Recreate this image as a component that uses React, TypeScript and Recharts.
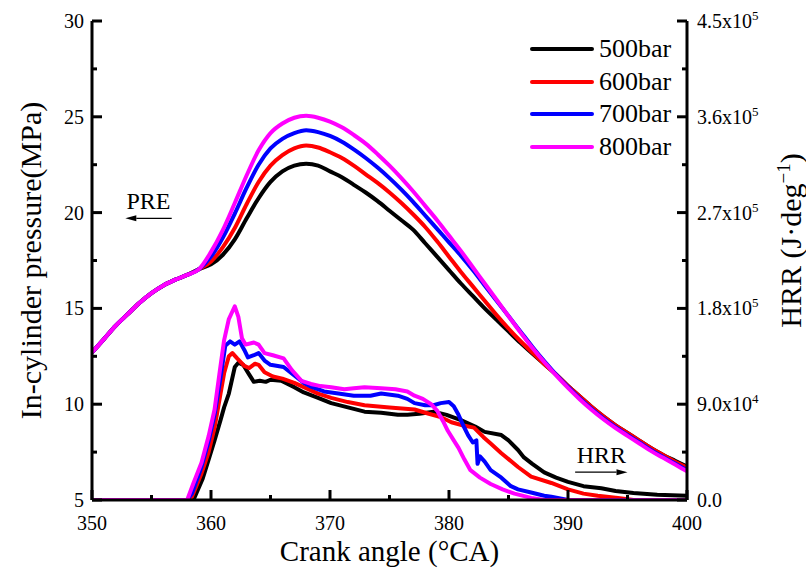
import React from 'react';
import { ComposedChart, Line, XAxis, YAxis, ReferenceLine, Legend, Label } from 'recharts';

const FONT = '"Liberation Serif", "Times New Roman", Times, serif';

// ---------- ticks ----------
const crankTicks = [350, 355, 360, 365, 370, 375, 380, 385, 390, 395, 400];
const pressureTicks = [5, 7.5, 10, 12.5, 15, 17.5, 20, 22.5, 25, 27.5, 30];
const hrrTicks = [0, 45000, 90000, 135000, 180000, 225000, 270000, 315000, 360000, 405000, 450000];

// ---------- series names / colours ----------
const seriesNames = ['500bar', '600bar', '700bar', '800bar'];
const seriesColors = ['#000000', '#ff0000', '#0000ff', '#ff00ff'];

// ---------- in-cylinder pressure (MPa) ----------
const preAngle = [
  350, 351, 352, 353, 354, 355, 356, 357, 358, 359,
  360, 361, 362, 363, 364, 365, 366, 367, 368, 369,
  370, 371, 372, 373, 374, 375, 376, 377, 378, 379,
  380, 381, 382, 383, 384, 385, 386, 387, 388, 389,
  390, 391, 392, 393, 394, 395, 396, 397, 398, 399, 400,
];
const pre500 = [
  12.7, 13.4, 14.1, 14.7, 15.3, 15.8, 16.2, 16.5, 16.75, 17.05,
  17.3, 17.8, 18.6, 19.7, 20.75, 21.6, 22.15, 22.45, 22.55, 22.45,
  22.15, 21.85, 21.45, 21.05, 20.6, 20.1, 19.6, 19.1, 18.4, 17.7,
  17.0, 16.3, 15.65, 15.0, 14.4, 13.8, 13.2, 12.65, 12.1, 11.55,
  10.95, 10.4, 9.85, 9.35, 8.9, 8.5, 8.1, 7.7, 7.35, 7.05, 6.75,
];
const pre600 = [
  12.7, 13.4, 14.1, 14.7, 15.3, 15.8, 16.2, 16.5, 16.75, 17.05,
  17.45, 18.2, 19.2, 20.45, 21.6, 22.45, 23.0, 23.35, 23.5, 23.4,
  23.15, 22.85, 22.45, 22.0, 21.55, 21.05, 20.5, 19.9, 19.25, 18.5,
  17.7, 16.9, 16.15, 15.4, 14.65, 13.95, 13.3, 12.7, 12.1, 11.55,
  10.95, 10.4, 9.85, 9.35, 8.9, 8.5, 8.1, 7.7, 7.35, 7.0, 6.7,
];
const pre700 = [
  12.7, 13.4, 14.1, 14.7, 15.3, 15.8, 16.2, 16.5, 16.75, 17.05,
  17.7, 18.7, 19.95, 21.3, 22.5, 23.35, 23.85, 24.15, 24.3, 24.2,
  24.0, 23.7, 23.3, 22.85, 22.35, 21.8, 21.2, 20.55, 19.85, 19.15,
  18.45, 17.75, 17.0, 16.2, 15.4, 14.6, 13.8, 13.0, 12.25, 11.55,
  10.9, 10.3, 9.75, 9.25, 8.8, 8.4, 8.0, 7.6, 7.25, 6.9, 6.55,
];
const pre800 = [
  12.7, 13.4, 14.1, 14.7, 15.3, 15.8, 16.2, 16.5, 16.75, 17.05,
  17.95, 19.1, 20.5, 21.95, 23.25, 24.15, 24.65, 24.95, 25.05, 24.95,
  24.75, 24.45, 24.05, 23.6, 23.05, 22.45, 21.8, 21.1, 20.35, 19.6,
  18.8, 18.0, 17.15, 16.3, 15.45, 14.6, 13.75, 12.95, 12.2, 11.5,
  10.85, 10.25, 9.7, 9.2, 8.75, 8.35, 7.95, 7.55, 7.2, 6.85, 6.5,
];

// ---------- heat release rate (J/deg) ----------
const hrrAngle500 = [
  350, 358.2, 358.6, 359.3, 359.8, 360.3, 360.8, 361.1, 361.5, 362.0,
  362.3, 362.7, 363.2, 363.6, 364.1, 364.6, 365.0, 365.9, 367.0, 367.8,
  369.0, 370.1, 371.5, 372.9, 374.3, 375.7, 376.5, 377.5, 378.7, 379.8,
  381.0, 382.2, 383.0, 384.4, 385.0, 385.8, 386.3, 387.0, 388.0, 389.0,
  390.0, 391.3, 392.8, 394.0, 395.5, 397.5, 400,
];
const hrr500 = [
  0, 0, 2000, 20000, 38000, 56000, 75000, 87000, 100000, 125000,
  129000, 127000, 118000, 111000, 112000, 111000, 113000, 112000, 106000, 101000,
  96000, 91000, 87000, 83000, 82000, 80000, 80000, 81000, 83000, 80000,
  75000, 69000, 64000, 61000, 56000, 47000, 40000, 34000, 26000, 21000,
  17000, 13000, 11000, 8500, 6600, 5000, 4000,
];
const hrrAngle600 = [
  350, 358, 358.4, 359.2, 359.8, 360.3, 360.8, 361.1, 361.5, 361.8,
  362.2, 362.8, 363.2, 363.7, 364.0, 364.5, 365.2, 366.0, 367.0, 367.8,
  369.0, 370.1, 371.5, 372.9, 375.0, 377.1, 378.3, 379.3, 380.2, 381.2,
  382.1, 382.9, 383.5, 384.4, 385.8, 386.9, 388.6, 390.0, 391.3, 392.5,
  394.2, 395.5, 400,
];
const hrr600 = [
  0, 0, 3000, 25000, 45000, 68000, 100000, 119000, 135000, 138000,
  133000, 126000, 124000, 128000, 127000, 120000, 116000, 114000, 110000, 106000,
  100000, 96000, 92000, 89000, 87000, 85000, 81000, 78000, 73000, 70000,
  68000, 59000, 53000, 44000, 31000, 22000, 16000, 10000, 6000, 4000,
  2000, 0, 0,
];
const hrrAngle700 = [
  350, 358, 358.4, 359.2, 359.8, 360.3, 360.8, 361.2, 361.6, 362.0,
  362.4, 362.8, 363.1, 363.6, 364.0, 364.5, 365.0, 366.1, 367.0, 367.8,
  368.5, 369.5, 370.7, 372.0, 373.4, 374.3, 375.7, 376.5, 377.1, 378.0,
  378.7, 379.3, 380.0, 380.4, 380.8, 381.2, 381.6, 382.0, 382.3, 382.4,
  382.6, 383.0, 383.5, 384.4, 385.2, 385.8, 386.9, 388.0, 388.6, 390.0, 400,
];
const hrr700 = [
  0, 0, 6000, 31000, 55000, 80000, 115000, 145000, 149000, 146000,
  149000, 141000, 134000, 136000, 138000, 131000, 127000, 125000, 117000, 110000,
  106000, 102000, 100000, 98000, 98000, 100000, 98000, 95000, 91000, 89000,
  89000, 91000, 92000, 88000, 80000, 70000, 61000, 54000, 56000, 34000,
  41000, 36000, 28000, 21000, 13000, 10000, 7000, 4000, 3000, 0, 0,
];
const hrrAngle800 = [
  350, 358, 358.5, 359.2, 359.8, 360.3, 360.7, 361.1, 361.5, 362.0,
  362.3, 362.6, 362.9, 363.6, 364.0, 364.5, 365.2, 366.1, 366.8, 367.6,
  368.4, 369.2, 370.1, 371.2, 372.0, 372.9, 374.3, 375.5, 376.5, 377.1,
  377.8, 378.5, 379.0, 379.5, 379.9, 380.4, 380.8, 381.3, 381.8, 382.6,
  383.5, 384.5, 385.5, 386.9, 388, 400,
];
const hrr800 = [
  0, 0, 15000, 35000, 60000, 85000, 118000, 150000, 170000, 182000,
  172000, 152000, 146000, 148000, 146000, 138000, 136000, 133000, 122000, 112000,
  109000, 107000, 106000, 104000, 105000, 106000, 105000, 104000, 102000, 98000,
  95000, 90000, 84000, 74000, 65000, 56000, 49000, 38000, 28000, 21000,
  15000, 10000, 6000, 2000, 0, 0,
];

// ---------- annotations ----------
const preArrow = { text: 'PRE', from: { x: 356.7, y: 19.7 }, to: { x: 352.8, y: 19.7 } };
const hrrArrow = { text: 'HRR', from: { x: 390.6, y: 6.45 }, to: { x: 395.0, y: 6.45 } };

const zip = (xs: number[], ys: number[]) => xs.map((x, i) => ({ x, y: ys[i] }));

const preSeries = [pre500, pre600, pre700, pre800].map((ys) => zip(preAngle, ys));
const hrrSeries = [
  zip(hrrAngle500, hrr500),
  zip(hrrAngle600, hrr600),
  zip(hrrAngle700, hrr700),
  zip(hrrAngle800, hrr800),
];

const TICK_FS = 20;

const BottomTick = (props: any) => {
  const { x, y, payload } = props;
  const v = payload.value;
  const major = v % 10 === 0;
  return (
    <g>
      <line x1={x} x2={x} y1={y} y2={y - (major ? 10 : 5)} stroke="#000" strokeWidth={3} />
      {major && (
        <text x={x} y={y + 30} textAnchor="middle" fontFamily={FONT} fontSize={TICK_FS} fill="#000">
          {v}
        </text>
      )}
    </g>
  );
};

const LeftTick = (props: any) => {
  const { x, y, payload } = props;
  const v = payload.value;
  const major = v % 5 === 0;
  return (
    <g>
      <line x1={x} x2={x + (major ? 10 : 5)} y1={y} y2={y} stroke="#000" strokeWidth={3} />
      {major && (
        <text x={x - 8} y={y} dy="0.35em" textAnchor="end" fontFamily={FONT} fontSize={TICK_FS} fill="#000">
          {v}
        </text>
      )}
    </g>
  );
};

const RightTick = (props: any) => {
  const { x, y, payload } = props;
  const v = payload.value as number;
  const major = v % 90000 === 0;
  let content: React.ReactNode = null;
  if (major) {
    if (v === 0) {
      content = '0.0';
    } else {
      const exp = Math.floor(Math.log10(v));
      const mant = (v / Math.pow(10, exp)).toFixed(1);
      content = (
        <>
          <tspan>{mant + 'x10'}</tspan>
          <tspan dy={-8} fontSize={13}>{exp}</tspan>
        </>
      );
    }
  }
  return (
    <g>
      <line x1={x} x2={x - (major ? 10 : 5)} y1={y} y2={y} stroke="#000" strokeWidth={3} />
      {major && (
        <text x={x + 10} y={y} dy="0.35em" textAnchor="start" fontFamily={FONT} fontSize={TICK_FS} fill="#000">
          {content}
        </text>
      )}
    </g>
  );
};

const Arrow = (text: string) => (p: any) => {
  const { x1, y1, x2, y2 } = p;
  const dir = x2 > x1 ? 1 : -1;
  const head = 11;
  return (
    <g>
      <line x1={x1} y1={y1} x2={x2 - dir * head} y2={y2} stroke="#000" strokeWidth={1.3} />
      <polygon
        points={`${x2},${y2} ${x2 - dir * head},${y2 - 3} ${x2 - dir * head},${y2 + 3}`}
        fill="#000"
      />
      <text x={(x1 + x2) / 2} y={y1 - 9} textAnchor="middle" fontFamily={FONT} fontSize={24} fill="#000">
        {text}
      </text>
    </g>
  );
};

const LegendContent = () => (
  <div style={{ fontFamily: FONT }}>
    {seriesNames.map((n, i) => (
      <div key={n} style={{ display: 'flex', alignItems: 'center', height: 32.5 }}>
        <svg width={64} height={8} style={{ display: 'block' }}>
          <line x1={2} x2={62} y1={4} y2={4} stroke={seriesColors[i]} strokeWidth={4} strokeLinecap="round" />
        </svg>
        <span style={{ fontSize: 26, lineHeight: 1, marginLeft: 5, color: '#000' }}>{n}</span>
      </div>
    ))}
  </div>
);

export default function App() {
  return (
    <div style={{ position: 'absolute', left: 0, top: 0, background: '#fff' }}>
      <ComposedChart width={806} height={569} margin={{ top: 21, right: 0, bottom: 0, left: 0 }}>
        <XAxis
          xAxisId="b"
          dataKey="x"
          type="number"
          domain={[350, 400]}
          allowDataOverflow
          ticks={crankTicks}
          interval={0}
          height={69}
          tickSize={0}
          tickMargin={0}
          tickLine={false}
          axisLine={{ stroke: '#000', strokeWidth: 3 }}
          tick={<BottomTick />}
        >
          <Label
            content={(p: any) => {
              const vb = p.viewBox || { x: 92, y: 500, width: 595, height: 69 };
              return (
                <text x={vb.x + vb.width / 2} y={vb.y + 61} textAnchor="middle" fontFamily={FONT} fontSize={29} fill="#000">
                  Crank angle (°CA)
                </text>
              );
            }}
          />
        </XAxis>
        <XAxis
          xAxisId="t"
          dataKey="x"
          type="number"
          orientation="top"
          domain={[350, 400]}
          allowDataOverflow
          height={0}
          tick={false}
          tickLine={false}
          axisLine={{ stroke: '#000', strokeWidth: 3 }}
        />
        <YAxis
          yAxisId="p"
          type="number"
          domain={[5, 30]}
          allowDataOverflow
          ticks={pressureTicks}
          interval={0}
          width={92}
          tickSize={0}
          tickMargin={0}
          tickLine={false}
          axisLine={{ stroke: '#000', strokeWidth: 3 }}
          tick={<LeftTick />}
        >
          <Label
            content={(p: any) => {
              const vb = p.viewBox || { x: 0, y: 21, width: 92, height: 479 };
              const cx = vb.x + 30;
              const cy = vb.y + vb.height / 2;
              return (
                <text x={cx} y={cy} transform={`rotate(-90, ${cx}, ${cy})`} dy="0.35em" textAnchor="middle" fontFamily={FONT} fontSize={30} fill="#000">
                  In-cylinder pressure(MPa)
                </text>
              );
            }}
          />
        </YAxis>
        <YAxis
          yAxisId="h"
          orientation="right"
          type="number"
          domain={[0, 450000]}
          allowDataOverflow
          ticks={hrrTicks}
          interval={0}
          width={119}
          tickSize={0}
          tickMargin={0}
          tickLine={false}
          axisLine={{ stroke: '#000', strokeWidth: 3 }}
          tick={<RightTick />}
        >
          <Label
            content={(p: any) => {
              const vb = p.viewBox || { x: 687, y: 21, width: 119, height: 479 };
              const cx = vb.x + 103;
              const cy = vb.y + vb.height / 2 - 20;
              return (
                <text x={cx} y={cy} transform={`rotate(-90, ${cx}, ${cy})`} dy="0.35em" textAnchor="middle" fontFamily={FONT} fontSize={30} fill="#000">
                  <tspan>HRR (J·deg</tspan>
                  <tspan dy={-11} fontSize={19}>−1</tspan>
                  <tspan dy={11}>)</tspan>
                </text>
              );
            }}
          />
        </YAxis>

        {hrrSeries.map((d, i) => (
          <Line
            key={'h' + i}
            data={d}
            dataKey="y"
            xAxisId="b"
            yAxisId="h"
            type="linear"
            stroke={seriesColors[i]}
            strokeWidth={4}
            strokeLinejoin="round"
            dot={false}
            activeDot={false}
            legendType="none"
            isAnimationActive={false}
          />
        ))}
        {preSeries.map((d, i) => (
          <Line
            key={'p' + i}
            data={d}
            dataKey="y"
            name={seriesNames[i]}
            xAxisId="b"
            yAxisId="p"
            type="monotone"
            stroke={seriesColors[i]}
            strokeWidth={4}
            dot={false}
            activeDot={false}
            isAnimationActive={false}
          />
        ))}

        <ReferenceLine
          xAxisId="b"
          yAxisId="p"
          segment={[preArrow.from, preArrow.to]}
          shape={Arrow(preArrow.text)}
        />
        <ReferenceLine
          xAxisId="b"
          yAxisId="p"
          segment={[hrrArrow.from, hrrArrow.to]}
          shape={Arrow(hrrArrow.text)}
        />

        <Legend
          layout="vertical"
          align="center"
          verticalAlign="middle"
          content={<LegendContent />}
          wrapperStyle={{ left: 530, top: 33, width: 160, height: 135 }}
        />
      </ComposedChart>
    </div>
  );
}
